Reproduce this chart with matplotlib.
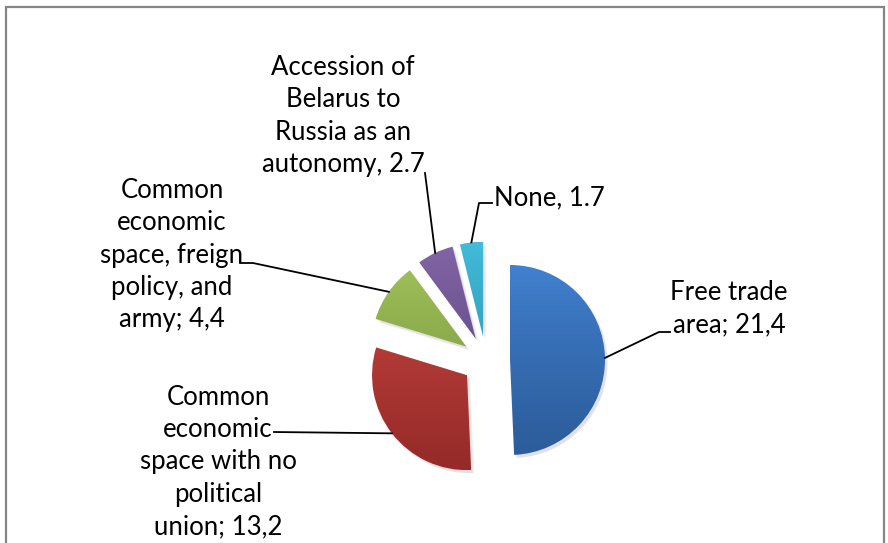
import numpy as np
import matplotlib
matplotlib.use("Agg")
import matplotlib.pyplot as plt
from matplotlib.patches import Rectangle, Wedge
from matplotlib.colors import to_rgb

W, H = 888, 543

labels = ["Free trade\narea; 21,4",
          "Common\neconomic\nspace with no\npolitical\nunion; 13,2",
          "Common\neconomic\nspace, freign\npolicy, and\narmy; 4,4",
          "Accession of\nBelarus to\nRussia as an\nautonomy, 2.7",
          "None, 1.7"]
values = [21.4, 13.2, 4.4, 2.7, 1.7]
top_colors = ["#4282D2", "#CA4843", "#A5C65C", "#8466A7", "#44BCDA"]
bottom_colors = ["#2C5C9A", "#952A28", "#789640", "#5C4580", "#2893B0"]

# label placement in pixels from the top-left corner
label_pos = [(729, 309), (218, 462), (172, 255), (343, 116), (494, 198)]
label_ha = ["center", "center", "center", "center", "left"]
# leader line: elbow and end point next to the label
leaders = [[(659, 332), (670, 332)],
           [(274, 432)],
           [(253, 263), (240, 263)],
           [(425, 173)],
           [(479, 203), (492, 203)]]

plt.rcParams['font.family'] = ['Lato', 'DejaVu Sans']

fig = plt.figure(figsize=(W / 100, H / 100), dpi=100)
ax = fig.add_axes([0, 0, 1, 1])


def flip(p):
    return p[0], H - p[1]


center = flip((486, 360.5))
radius = 95
wedges, _ = ax.pie(values, center=center, radius=radius, explode=[24] * len(values),
                   startangle=90, counterclock=False, frame=True,
                   wedgeprops=dict(facecolor="none", linewidth=0))

for i, w in enumerate(wedges):
    cx, cy = w.center
    # soft shadow
    for k in range(3):
        ax.add_patch(Wedge((cx + 1.5 + k, cy - 2 - k), radius + 1 - k, w.theta1, w.theta2,
                           facecolor="black", alpha=0.04, linewidth=0, zorder=1))
    t = np.linspace(0, 1, 200)[:, None] ** 0.8
    c0 = np.array(to_rgb(top_colors[i]))
    c1 = np.array(to_rgb(bottom_colors[i]))
    grad = (c1 * t + c0 * (1 - t))[:, None, :]
    im = ax.imshow(grad, extent=(cx - radius, cx + radius, cy - radius, cy + radius),
                   origin="upper", aspect="auto", zorder=2, interpolation="bilinear")
    im.set_clip_path(w)

    # leader line from the middle of the outer arc
    mid = np.deg2rad((w.theta1 + w.theta2) / 2)
    arc_pt = (cx + radius * np.cos(mid), cy + radius * np.sin(mid))
    pts = [arc_pt] + [flip(p) for p in leaders[i]]
    xs, ys = zip(*pts)
    ax.plot(xs, ys, color="black", linewidth=1.3, zorder=3)

    lx, ly = flip(label_pos[i])
    ax.text(lx, ly, labels[i], ha=label_ha[i], va="center", multialignment="center",
            fontsize=18.5, linespacing=1.36, color="black", zorder=4)

ax.set_xlim(0, W)
ax.set_ylim(0, H)
ax.set_aspect("equal")
ax.axis("off")

# chart frame, bottom edge falls outside the image
ax.add_patch(Rectangle((5.5, -20), 878, H - 6.5 + 20, facecolor="none",
                       edgecolor="#868686", linewidth=1.6, zorder=5))

fig.savefig("out.png", dpi=100)
